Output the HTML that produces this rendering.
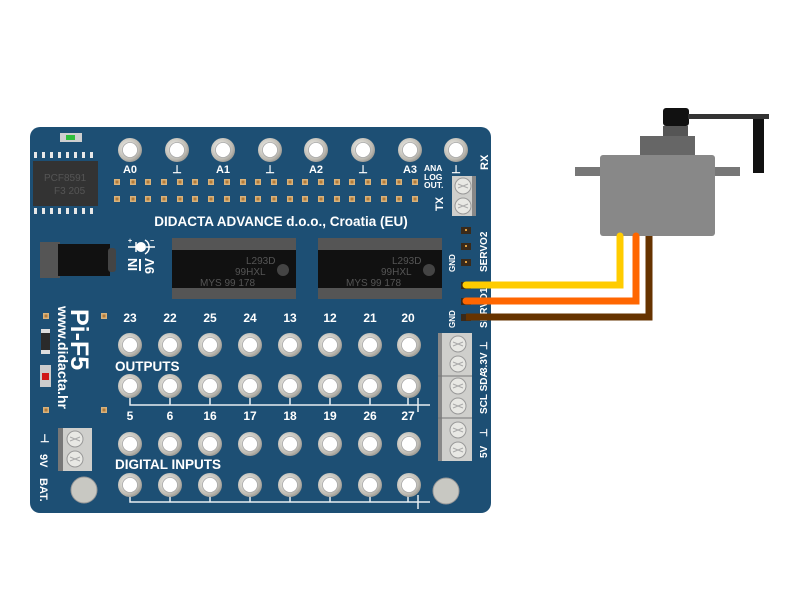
<!DOCTYPE html>
<html><head><meta charset="utf-8"><style>
html,body{margin:0;padding:0;background:#fff;width:800px;height:600px;overflow:hidden}
svg{display:block}
text{font-family:"Liberation Sans",sans-serif;font-weight:bold;fill:#fff}
</style></head><body>
<svg width="800" height="600" viewBox="0 0 800 600" xmlns="http://www.w3.org/2000/svg">
<defs>
<radialGradient id="ring" cx="0.4" cy="0.4" r="0.7"><stop offset="0" stop-color="#f4f4f0"/><stop offset="0.7" stop-color="#bdbab2"/><stop offset="1" stop-color="#8c8a84"/></radialGradient>
<g id="hole"><circle r="12" fill="url(#ring)"/><circle r="7.5" fill="#fff" stroke="#aaa" stroke-width="0.8"/></g>
<g id="pad"><rect x="-3" y="-3" width="6" height="6" fill="#d9b27a"/><rect x="-1.5" y="-1.5" width="3" height="3" fill="#b07a3a"/></g>
<g id="screw"><circle r="8" fill="#e8e8e4" stroke="#999" stroke-width="1"/><path d="M-5,-2 L5,2 M-5,2 L5,-2" stroke="#aaa" stroke-width="1"/></g>
</defs>
<rect x="30" y="127" width="461" height="386" rx="10" fill="#1d4f74"/>
<rect x="60" y="133" width="22" height="9" fill="#cfcfcf"/><rect x="66" y="135" width="9" height="5" fill="#2fbf3a"/>
<g fill="#e8e8e8">
<rect x="34" y="152" width="3" height="6"/><rect x="42" y="152" width="3" height="6"/><rect x="50" y="152" width="3" height="6"/><rect x="58" y="152" width="3" height="6"/><rect x="66" y="152" width="3" height="6"/><rect x="74" y="152" width="3" height="6"/><rect x="82" y="152" width="3" height="6"/><rect x="90" y="152" width="3" height="6"/>
<rect x="34" y="208" width="3" height="6"/><rect x="42" y="208" width="3" height="6"/><rect x="50" y="208" width="3" height="6"/><rect x="58" y="208" width="3" height="6"/><rect x="66" y="208" width="3" height="6"/><rect x="74" y="208" width="3" height="6"/><rect x="82" y="208" width="3" height="6"/><rect x="90" y="208" width="3" height="6"/>
</g>
<rect x="33" y="161" width="65" height="45" fill="#333"/>
<text x="44" y="181" font-size="10" style="fill:#555;font-weight:normal">PCF8591</text>
<text x="54" y="194" font-size="10" style="fill:#555;font-weight:normal">F3 205</text>
<use href="#hole" x="130" y="150"/><use href="#hole" x="177" y="150"/><use href="#hole" x="223" y="150"/><use href="#hole" x="270" y="150"/><use href="#hole" x="316" y="150"/><use href="#hole" x="363" y="150"/><use href="#hole" x="410" y="150"/><use href="#hole" x="456" y="150"/>
<g font-size="11" text-anchor="middle">
<text x="130" y="173">A0</text><text x="177" y="173">⊥</text><text x="223" y="173">A1</text><text x="270" y="173">⊥</text><text x="316" y="173">A2</text><text x="363" y="173">⊥</text><text x="410" y="173">A3</text><text x="456" y="173">⊥</text>
</g>
<g font-size="8.5"><text x="424" y="171">ANA</text><text x="424" y="180">LOG</text><text x="424" y="188">OUT.</text></g>
<text font-size="11" transform="translate(488,170) rotate(-90)">RX</text>
<text font-size="11" transform="translate(443,211) rotate(-90)">TX</text>
<g id="padrow">
<use href="#pad" x="117" y="182"/><use href="#pad" x="133" y="182"/><use href="#pad" x="148" y="182"/><use href="#pad" x="164" y="182"/><use href="#pad" x="180" y="182"/><use href="#pad" x="195" y="182"/><use href="#pad" x="211" y="182"/><use href="#pad" x="227" y="182"/><use href="#pad" x="243" y="182"/><use href="#pad" x="258" y="182"/><use href="#pad" x="274" y="182"/><use href="#pad" x="290" y="182"/><use href="#pad" x="305" y="182"/><use href="#pad" x="321" y="182"/><use href="#pad" x="337" y="182"/><use href="#pad" x="352" y="182"/><use href="#pad" x="368" y="182"/><use href="#pad" x="384" y="182"/><use href="#pad" x="399" y="182"/><use href="#pad" x="415" y="182"/>
</g>
<use href="#padrow" y="17"/>
<rect x="452" y="176" width="24" height="40" fill="#cfcfcc"/><rect x="472" y="176" width="4" height="40" fill="#888"/>
<use href="#screw" x="463" y="186"/><use href="#screw" x="463" y="206"/>
<text x="281" y="226" font-size="13.5" text-anchor="middle">DIDACTA  ADVANCE d.o.o., Croatia (EU)</text>
<rect x="40" y="242" width="20" height="36" fill="#555"/>
<rect x="58" y="244" width="52" height="32" fill="#111"/>
<rect x="108" y="248" width="8" height="24" rx="3" fill="#444"/>
<circle cx="141" cy="247" r="5" fill="#fff"/>
<path d="M128,247 H136 M146,247 H155 M136,242 v10" stroke="#fff" stroke-width="1.5" fill="none"/>
<path d="M145,240 a8,8 0 0 1 0,14" stroke="#fff" stroke-width="1.5" fill="none"/>
<text x="128" y="243" font-size="7">+</text><text x="150" y="243" font-size="7">−</text>
<text font-size="13" transform="translate(137,271) rotate(-90)">IN</text>
<rect x="139" y="259" width="2" height="12" fill="#fff"/>
<text font-size="13" transform="translate(154,274) rotate(-90)">9V</text>
<g>
<rect x="172" y="238" width="124" height="61" fill="#555"/>
<rect x="172" y="250" width="124" height="38" fill="#111"/>
<text x="246" y="264" font-size="10" style="fill:#555;font-weight:normal">L293D</text>
<text x="235" y="275" font-size="10" style="fill:#555;font-weight:normal">99HXL</text>
<text x="200" y="286" font-size="10" style="fill:#555;font-weight:normal">MYS  99 178</text>
<circle cx="283" cy="270" r="6" fill="#444"/>
</g>
<g transform="translate(146,0)">
<rect x="172" y="238" width="124" height="61" fill="#555"/>
<rect x="172" y="250" width="124" height="38" fill="#111"/>
<text x="246" y="264" font-size="10" style="fill:#555;font-weight:normal">L293D</text>
<text x="235" y="275" font-size="10" style="fill:#555;font-weight:normal">99HXL</text>
<text x="200" y="286" font-size="10" style="fill:#555;font-weight:normal">MYS  99 178</text>
<circle cx="283" cy="270" r="6" fill="#444"/>
</g>
<g fill="#3a2a1a">
<rect x="461" y="227" width="10" height="7"/><rect x="461" y="243" width="10" height="7"/><rect x="461" y="259" width="10" height="7"/>
<rect x="461" y="282" width="10" height="7"/><rect x="461" y="298" width="10" height="7"/><rect x="461" y="314" width="10" height="7"/>
</g>
<g fill="#e0a040"><rect x="465" y="229" width="2" height="2"/><rect x="465" y="245" width="2" height="2"/><rect x="465" y="261" width="2" height="2"/></g>
<text font-size="10" transform="translate(487,272) rotate(-90)">SERVO2</text>
<text font-size="10" transform="translate(487,328) rotate(-90)">SERVO1</text>
<text font-size="8" transform="translate(455,272) rotate(-90)">GND</text>
<text font-size="8" transform="translate(455,328) rotate(-90)">GND</text>
<use href="#pad" x="46" y="316"/><use href="#pad" x="104" y="316"/><use href="#pad" x="46" y="410"/><use href="#pad" x="104" y="410"/>
<rect x="41" y="329" width="9" height="25" fill="#ddd"/><rect x="41" y="333" width="9" height="17" fill="#2a2a2a"/>
<rect x="40" y="365" width="11" height="22" fill="#ccc"/><rect x="42" y="373" width="7" height="7" fill="#d01818"/>
<text font-size="14" transform="translate(58,306) rotate(90)">www.didacta.hr</text>
<text font-size="25" transform="translate(71,309) rotate(90)">Pi-F5</text>
<rect x="60" y="428" width="32" height="43" fill="#cfcfcc"/><rect x="58" y="428" width="5" height="43" fill="#777"/>
<use href="#screw" x="75" y="439"/><use href="#screw" x="75" y="459"/>
<text x="40" y="442" font-size="11">⊥</text>
<text font-size="11" transform="translate(40,454) rotate(90)">9V</text>
<text font-size="11" transform="translate(40,478) rotate(90)">BAT.</text>
<circle cx="84" cy="490" r="13" fill="#c8c8c2" stroke="#999"/>
<circle cx="446" cy="491" r="13" fill="#c8c8c2" stroke="#999"/>
<g font-size="12" text-anchor="middle">
<text x="130" y="322">23</text><text x="170" y="322">22</text><text x="210" y="322">25</text><text x="250" y="322">24</text><text x="290" y="322">13</text><text x="330" y="322">12</text><text x="370" y="322">21</text><text x="408" y="322">20</text>
<text x="130" y="420">5</text><text x="170" y="420">6</text><text x="210" y="420">16</text><text x="250" y="420">17</text><text x="290" y="420">18</text><text x="330" y="420">19</text><text x="370" y="420">26</text><text x="408" y="420">27</text>
</g>
<path d="M130,391 V405 H418 M170,391V405 M210,391V405 M250,391V405 M290,391V405 M330,391V405 M370,391V405 M408,391V405 M418,398 V412 M418,405 H430" stroke="#e8eef2" stroke-width="1.5" fill="none"/>
<path d="M130,490 V502 H418 M170,490V502 M210,490V502 M250,490V502 M290,490V502 M330,490V502 M370,490V502 M408,490V502 M418,495 V509 M418,502 H430" stroke="#e8eef2" stroke-width="1.5" fill="none"/>
<g id="hrow">
<use href="#hole" x="130" y="345"/><use href="#hole" x="170" y="345"/><use href="#hole" x="210" y="345"/><use href="#hole" x="250" y="345"/><use href="#hole" x="290" y="345"/><use href="#hole" x="330" y="345"/><use href="#hole" x="370" y="345"/><use href="#hole" x="409" y="345"/>
</g>
<use href="#hrow" y="41"/><use href="#hrow" y="99"/><use href="#hrow" y="140"/>
<text x="115" y="371" font-size="13.5">OUTPUTS</text>
<text x="115" y="469" font-size="13.5">DIGITAL INPUTS</text>
<rect x="438" y="333" width="34" height="128" fill="#cfcfcc"/><rect x="438" y="333" width="4" height="128" fill="#888"/>
<path d="M438,376 H472 M438,418 H472" stroke="#777" stroke-width="1"/>
<use href="#screw" x="458" y="344"/><use href="#screw" x="458" y="364"/><use href="#screw" x="458" y="386"/><use href="#screw" x="458" y="406"/><use href="#screw" x="458" y="430"/><use href="#screw" x="458" y="450"/>
<text font-size="10" transform="translate(487,350) rotate(-90)">⊥</text>
<text font-size="10" transform="translate(487,373) rotate(-90)">3.3V</text>
<text font-size="10" transform="translate(487,414) rotate(-90)">SCL SDA</text>
<text font-size="10" transform="translate(487,437) rotate(-90)">⊥</text>
<text font-size="10" transform="translate(487,458) rotate(-90)">5V</text>
<rect x="663" y="108" width="26" height="18" rx="3" fill="#111"/>
<rect x="688" y="114" width="81" height="5" fill="#333"/>
<rect x="753" y="119" width="11" height="54" fill="#111"/>
<rect x="663" y="126" width="25" height="10" fill="#555"/>
<rect x="640" y="136" width="55" height="20" fill="#666"/>
<rect x="575" y="167" width="165" height="9" fill="#777"/>
<rect x="600" y="155" width="115" height="81" rx="3" fill="#888"/>
<path d="M466,285 H620 V236" stroke="#ffcc00" stroke-width="7" fill="none" stroke-linecap="round"/>
<path d="M466,301 H636 V236" stroke="#ff6600" stroke-width="7" fill="none" stroke-linecap="round"/>
<path d="M466,317 H649 V236" stroke="#663300" stroke-width="7" fill="none"/>
</svg>
</body></html>
